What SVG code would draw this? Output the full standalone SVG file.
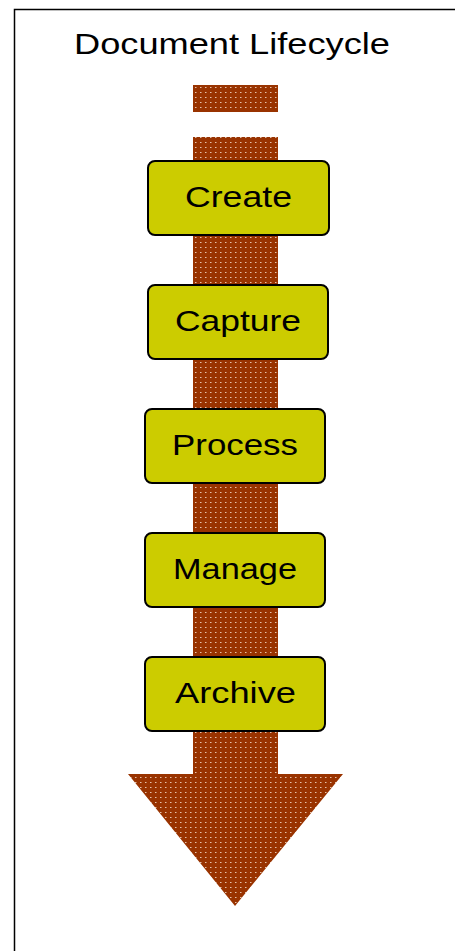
<svg xmlns="http://www.w3.org/2000/svg" width="455" height="951" viewBox="0 0 455 951">
  <style>
    .frame { stroke: #000; stroke-width: 1.5; fill: none; }
    .title { font-family: "Liberation Sans", Arial, sans-serif; font-size: 29px; fill: #000; }
    .step rect { fill: #CCCC00; stroke: #000; stroke-width: 2; }
    .step text { font-family: "Liberation Sans", Arial, sans-serif; font-size: 29px; fill: #000; text-anchor: middle; }
    .flow { fill: url(#dots); }
  </style>
  <defs>
    <!-- brown fill with a fine grid of light dots -->
    <pattern id="dots" x="193" y="85" width="5" height="5" patternUnits="userSpaceOnUse">
      <rect width="5" height="5" fill="#993300"/>
      <rect x="2" y="2" width="1.5" height="1" fill="#F2DCCB" opacity="0.85"/>
    </pattern>
  </defs>

  <!-- page frame (top and left edges) -->
  <path class="frame" d="M14.5 951 V9.5 H455"/>

  <text class="title" x="74" y="54" textLength="316" lengthAdjust="spacingAndGlyphs">Document Lifecycle</text>

  <!-- flow arrow -->
  <g id="flow-arrow">
    <rect class="flow" x="193" y="85" width="85" height="27"/>
    <polygon class="flow" points="193,137 278,137 278,774 343,774 235,906 128,774 193,774"/>
  </g>

  <g id="connectors"></g>

  <g id="create" class="step">
    <rect x="148" y="161" width="181" height="74" rx="7"/>
    <text x="238.5" y="207" textLength="107" lengthAdjust="spacingAndGlyphs">Create</text>
  </g>
  <g id="capture" class="step">
    <rect x="148" y="285" width="180" height="74" rx="7"/>
    <text x="238" y="331" textLength="126" lengthAdjust="spacingAndGlyphs">Capture</text>
  </g>
  <g id="process" class="step">
    <rect x="145" y="409" width="180" height="74" rx="7"/>
    <text x="235" y="455" textLength="126" lengthAdjust="spacingAndGlyphs">Process</text>
  </g>
  <g id="manage" class="step">
    <rect x="145" y="533" width="180" height="74" rx="7"/>
    <text x="235" y="579" textLength="124" lengthAdjust="spacingAndGlyphs">Manage</text>
  </g>
  <g id="archive" class="step">
    <rect x="145" y="657" width="180" height="74" rx="7"/>
    <text x="235.5" y="703" textLength="121" lengthAdjust="spacingAndGlyphs">Archive</text>
  </g>
</svg>
